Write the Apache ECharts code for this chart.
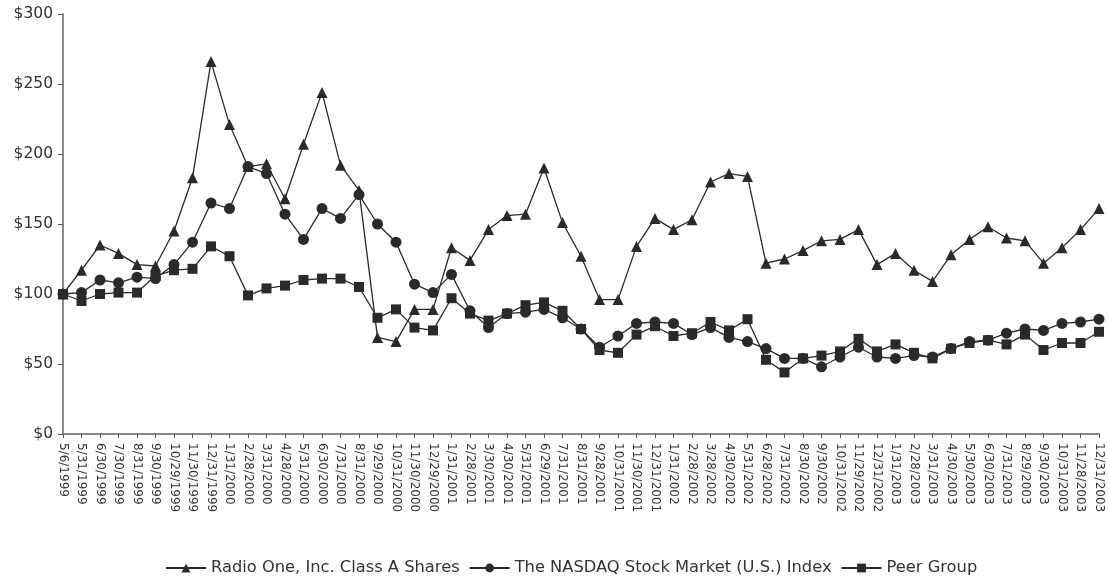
<!DOCTYPE html>
<html>
<head>
<meta charset="utf-8">
<script src="https://cdn.jsdelivr.net/npm/echarts@6/dist/echarts.min.js"></script>
<style>html,body{margin:0;padding:0;background:#fff;}#c{width:1109px;height:582px;}</style>
</head>
<body>
<div id="c"></div>
<script>
const categories = ["5/6/1999","5/31/1999","6/30/1999","7/30/1999","8/31/1999","9/30/1999","10/29/1999","11/30/1999","12/31/1999","1/31/2000","2/28/2000","3/31/2000","4/28/2000","5/31/2000","6/30/2000","7/31/2000","8/31/2000","9/29/2000","10/31/2000","11/30/2000","12/29/2000","1/31/2001","2/28/2001","3/30/2001","4/30/2001","5/31/2001","6/29/2001","7/31/2001","8/31/2001","9/28/2001","10/31/2001","11/30/2001","12/31/2001","1/31/2002","2/28/2002","3/28/2002","4/30/2002","5/31/2002","6/28/2002","7/31/2002","8/30/2002","9/30/2002","10/31/2002","11/29/2002","12/31/2002","1/31/2003","2/28/2003","3/31/2003","4/30/2003","5/30/2003","6/30/2003","7/31/2003","8/29/2003","9/30/2003","10/31/2003","11/28/2003","12/31/2003"];
const radioOne = [100,117,135,129,121,120,145,183,266,221,191,193,168,207,244,192,174,69,66,89,89,133,124,146,156,157,190,151,127,96,96,134,154,146,153,180,186,184,122,125,131,138,139,146,121,129,117,109,128,139,148,140,138,122,133,146,161];
const nasdaq = [100,101,110,108,112,111,121,137,165,161,191,186,157,139,161,154,171,150,137,107,101,114,88,76,86,87,89,83,75,62,70,79,80,79,71,76,69,66,61,54,54,48,55,62,55,54,56,55,61,66,67,72,75,74,79,80,82];
const peer = [100,95,100,101,101,113,117,118,134,127,99,104,106,110,111,111,105,83,89,76,74,97,86,81,86,92,94,88,75,60,58,71,77,70,72,80,74,82,53,44,54,56,59,68,59,64,58,54,61,65,67,64,71,60,65,65,73];
const yTicks = [0,50,100,150,200,250,300];
const seriesNames = ["Radio One, Inc. Class A Shares","The NASDAQ Stock Market (U.S.) Index","Peer Group"];

const chart = echarts.init(document.getElementById('c'));
const ink = '#2a2a2a';
const font = 'DejaVu Sans, Liberation Sans, sans-serif';
function mk(name, data, symbol, size) {
  return {
    name, type: 'line', data, symbol, symbolSize: size,
    lineStyle: { color: ink, width: 1.3 },
    itemStyle: { color: ink },
    animation: false
  };
}
chart.setOption({
  backgroundColor: '#fff',
  grid: { left: 63, right: 10, top: 14, bottom: 148 },
  textStyle: { fontFamily: font },
  legend: {
    top: 555, left: 160, itemWidth: 40, itemHeight: 11, itemGap: 9,
    textStyle: { color: '#333', fontSize: 16.3, fontFamily: font },
    data: seriesNames
  },
  xAxis: {
    type: 'category', data: categories, boundaryGap: false,
    axisLine: { lineStyle: { color: '#888', width: 2 } },
    axisTick: { show: true, alignWithLabel: true, length: 4, lineStyle: { color: '#555' } },
    axisLabel: { rotate: -90, interval: 0, fontSize: 12, color: '#333', margin: 9, fontFamily: font },
    splitLine: { show: false }
  },
  yAxis: {
    type: 'value', min: yTicks[0], max: yTicks[yTicks.length - 1], interval: 50,
    axisLine: { show: true, lineStyle: { color: '#888', width: 2 } },
    axisTick: { show: true, length: 5, lineStyle: { color: '#555' } },
    axisLabel: { formatter: v => '$' + v, fontSize: 15.5, color: '#333', margin: 10, fontFamily: font },
    splitLine: { show: false }
  },
  series: [
    mk(seriesNames[0], radioOne, 'triangle', 11),
    mk(seriesNames[1], nasdaq, 'circle', 11),
    mk(seriesNames[2], peer, 'rect', 10)
  ]
});
</script>
</body>
</html>
